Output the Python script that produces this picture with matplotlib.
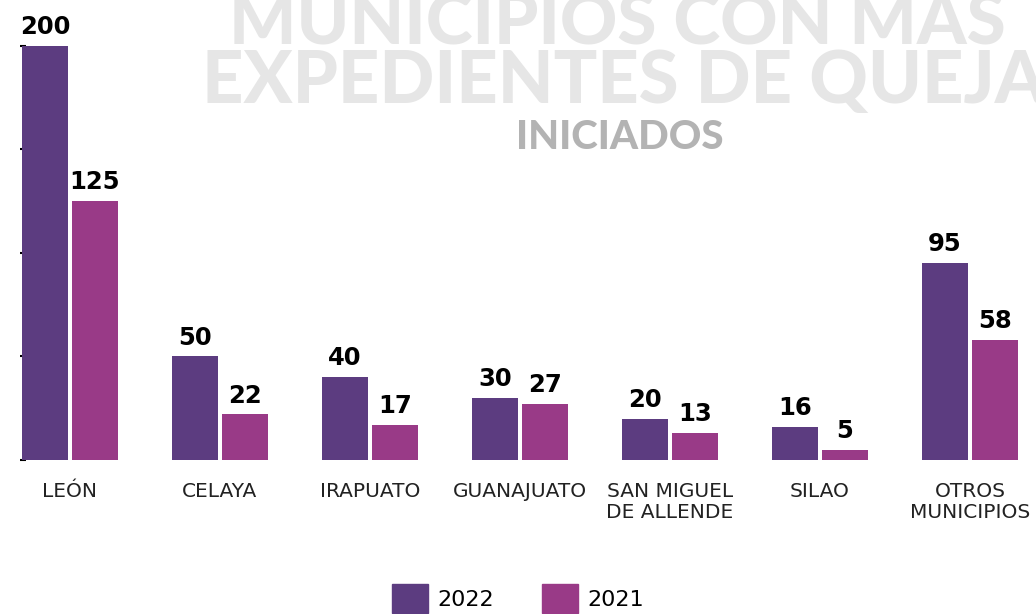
import matplotlib.pyplot as plt
import numpy as np
from matplotlib.patches import Patch

# datos
municipios = ['LEÓN', 'CELAYA', 'IRAPUATO', 'GUANAJUATO', 'SAN MIGUEL\nDE ALLENDE', 'SILAO', 'OTROS\nMUNICIPIOS']
quejas_2022 = [200, 50, 40, 30, 20, 16, 95]
quejas_2021 = [125, 22, 17, 27, 13, 5, 58]

COLOR_2022 = '#5c3c80'
COLOR_2021 = '#993a87'

plt.rcParams['font.family'] = ['DejaVu Sans']

W, H = 1036, 614
fig = plt.figure(figsize=(W / 100, H / 100), dpi=100)
# ejes: base de las barras en y=460 px, borde izquierdo en x=20 px
ax = fig.add_axes([20 / W, (H - 460) / H, 1 - 20 / W, 460 / H])
ax.set_facecolor('none')

x = np.arange(len(municipios))
ancho = 0.307
off = 0.167

b1 = ax.bar(x - off, quejas_2022, ancho, color=COLOR_2022, zorder=3)
b2 = ax.bar(x + off, quejas_2021, ancho, color=COLOR_2021, zorder=3)

for barras in (b1, b2):
    for b in barras:
        ax.annotate(str(int(b.get_height())),
                    (b.get_x() + b.get_width() / 2, b.get_height()),
                    xytext=(0, 5), textcoords='offset points',
                    ha='center', va='bottom', fontsize=17.5, fontweight='bold',
                    color='black', zorder=4, annotation_clip=False)

ax.set_xlim(-0.333, 6.44)
ax.set_ylim(0, 222.2)

ax.set_xticks(x)
ax.set_xticklabels(municipios, fontsize=14.5, color='#222222', linespacing=1.15)
ax.tick_params(axis='x', length=0, pad=16)

ax.set_yticks([0, 50, 100, 150, 200])
ax.set_yticklabels([])
ax.tick_params(axis='y', direction='in', length=4, width=1.5, color='black')

for s in ax.spines.values():
    s.set_visible(False)

# título de fondo (cortado arriba y a la derecha como en el original)
fig.text(0.596, 1 - 43 / H, 'MUNICIPIOS CON MÁS', ha='center', va='baseline',
         fontsize=51, fontweight='black', color='#e6e6e6', zorder=0, family='Lato')
fig.text(0.602, 1 - 103 / H, 'EXPEDIENTES DE QUEJA', ha='center', va='baseline',
         fontsize=52, fontweight='black', color='#e6e6e6', zorder=0, family='Lato')
fig.text(0.598, 1 - 149 / H, 'INICIADOS', ha='center', va='baseline',
         fontsize=29, fontweight='black', color='#b3b3b3', zorder=0, family='Lato')

fig.legend(handles=[Patch(color=COLOR_2022, label='2022'),
                    Patch(color=COLOR_2021, label='2021')],
           loc='center', bbox_to_anchor=(0.5, 0.025), ncol=2, frameon=False,
           fontsize=16, handlelength=1.6, handleheight=1.6, columnspacing=2.2,
           handletextpad=0.4)

fig.savefig('out.png', dpi=100)
